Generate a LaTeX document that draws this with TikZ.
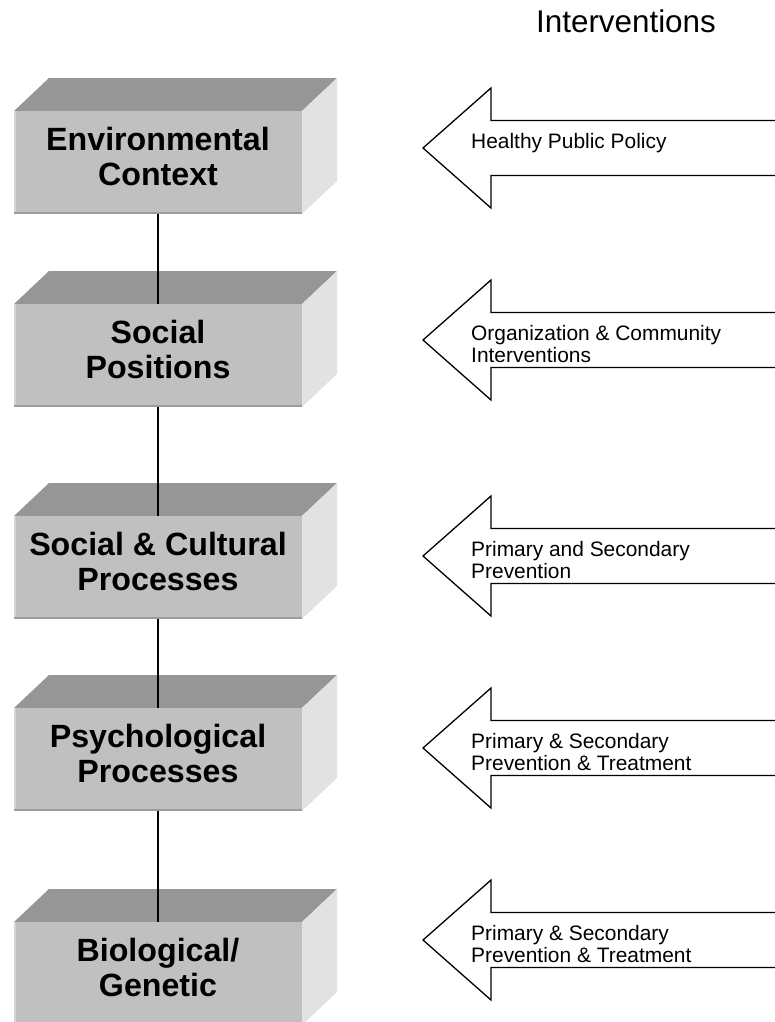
\documentclass[tikz,border=0pt]{standalone}
\usepackage{fontspec}
\setmainfont{Liberation Sans}
\begin{document}
\begin{tikzpicture}[x=1bp,y=-1bp,
  facefront/.style={fill=boxfront, draw=none, minimum width=288bp, minimum height=103bp, inner sep=0pt, outer sep=0pt},
  boxlabel/.style={align=center, font=\fontsize{32.3}{35}\selectfont\bfseries, inner sep=0pt},
  linkline/.style={draw=black, line width=1.3bp},
  arrowline/.style={draw=black, line width=1.3bp, line join=miter},
  arrowtext/.style={anchor=north west, align=left, inner sep=0pt, font=\fontsize{21}{21.5}\selectfont},
  titletext/.style={anchor=base, inner sep=0pt, font=\fontsize{31.5}{35}\selectfont}
]
\definecolor{boxfront}{HTML}{C0C0C0}
\definecolor{boxtop}{HTML}{969696}
\definecolor{boxside}{HTML}{E2E2E2}
\definecolor{boxedge}{HTML}{9C9C9C}
\definecolor{boxlight}{HTML}{D4D4D4}
\useasboundingbox (0,0) rectangle (775,1022);

% title of the right-hand column
\node[titletext] (title) at (626,32) {Interventions};

% one shaded block: #1 name, #2 top of front face, #3 text
\newcommand{\levelblock}[3]{%
  \fill[boxtop] (14,#2) -- (49,#2-33) -- (337,#2-33) -- (302,#2) -- cycle;
  \fill[boxside] (302,#2) -- (337,#2-33) -- (337,#2+70) -- (302,#2+103) -- cycle;
  \node[facefront] (#1) at (158,#2+51.5) {};
  \draw[boxlight, line width=1.5bp] (14.75,#2) -- (14.75,#2+103);
  \draw[boxedge, line width=2bp] (14,#2+102) -- (302,#2+102);
  \node[boxlabel] (#1t) at (158,#2+45.5) {#3};
}

\levelblock{env}{111}{Environmental\\Context}
\levelblock{pos}{304}{Social\\Positions}
\levelblock{cult}{516}{Social \& Cultural\\Processes}
\levelblock{psy}{708}{Psychological\\Processes}
\levelblock{bio}{922}{Biological/\\Genetic}

% vertical links between levels
\draw[linkline] (env.south) -- (pos.north);
\draw[linkline] (pos.south) -- (cult.north);
\draw[linkline] (cult.south) -- (psy.north);
\draw[linkline] (psy.south) -- (bio.north);

% block arrows pointing at the levels: #1 name, #2 centre line, #3 text
\newcommand{\interarrow}[3]{%
  \coordinate (#1tip) at (423,#2);
  \draw[arrowline] (790,#2-27.5) -- (491,#2-27.5) -- (491,#2-60) -- (#1tip)
    -- (491,#2+60) -- (491,#2+27.5) -- (790,#2+27.5);
  \node[arrowtext] (#1t) at (471,#2-14.5) {#3};
}

\interarrow{hpp}{148}{Healthy Public Policy}
\interarrow{oci}{340}{Organization \& Community\\Interventions}
\interarrow{psp}{556}{Primary and Secondary\\Prevention}
\interarrow{pst}{748}{Primary \& Secondary\\Prevention \& Treatment}
\interarrow{psb}{940}{Primary \& Secondary\\Prevention \& Treatment}
\end{tikzpicture}
\end{document}
